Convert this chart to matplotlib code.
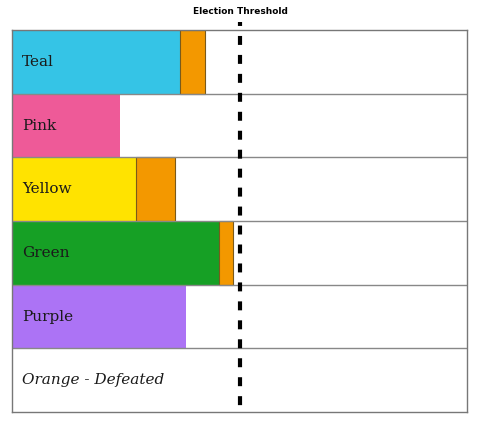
import matplotlib.pyplot as plt

# Vote share per party (percent), with the orange "transfer" top-up
parties = ['Teal', 'Pink', 'Yellow', 'Green', 'Purple', 'Orange - Defeated']
base = [37.0, 23.7, 27.3, 45.5, 38.2, 0.0]
transfer = [5.5, 0.0, 8.6, 3.1, 0.0, 0.0]
colors = ['#35C4E6', '#EE5A98', '#FFE300', '#16A025', '#AC73F5', '#FFFFFF']
threshold = 50.0

fig = plt.figure(figsize=(4.8, 4.23), dpi=100)
ax = fig.add_axes([0.025, 0.026, 0.948, 0.903])

ypos = list(range(len(parties)))
ax.barh(ypos, base, height=1.0, color=colors, edgecolor='none', zorder=2)

# only parties that received transfers get an orange segment
idx = [i for i in ypos if transfer[i] > 0]
ax.barh(idx, [transfer[i] for i in idx], left=[base[i] for i in idx],
        height=1.0, color='#F39800', edgecolor='#7a5a1a', linewidth=0.8,
        zorder=2)

ax.set_xlim(0, 100)
ax.set_ylim(len(parties) - 0.5, -0.5)

# row separators
for y in range(1, len(parties)):
    ax.axhline(y - 0.5, color='#888888', lw=1.0, zorder=3)
for s in ax.spines.values():
    s.set_color('#777777')
    s.set_linewidth(1.0)
    s.set_zorder(4)

for i, name in enumerate(parties):
    ax.text(2.2, i, name, va='center', ha='left', fontsize=11,
            family='DejaVu Serif', color='#1a1a1a',
            style='italic' if 'Defeated' in name else 'normal', zorder=5)

ax.plot([threshold, threshold], [-0.626, len(parties) - 0.5], color='black',
        lw=3.0, linestyle=(1.2, (2.15, 2.4)), clip_on=False, zorder=6)

fig.text(0.5, 0.972, 'Election Threshold', ha='center', va='center',
         fontsize=6.5, fontweight='bold', family='DejaVu Sans')

ax.set_xticks([])
ax.set_yticks([])

fig.savefig('out.png')
